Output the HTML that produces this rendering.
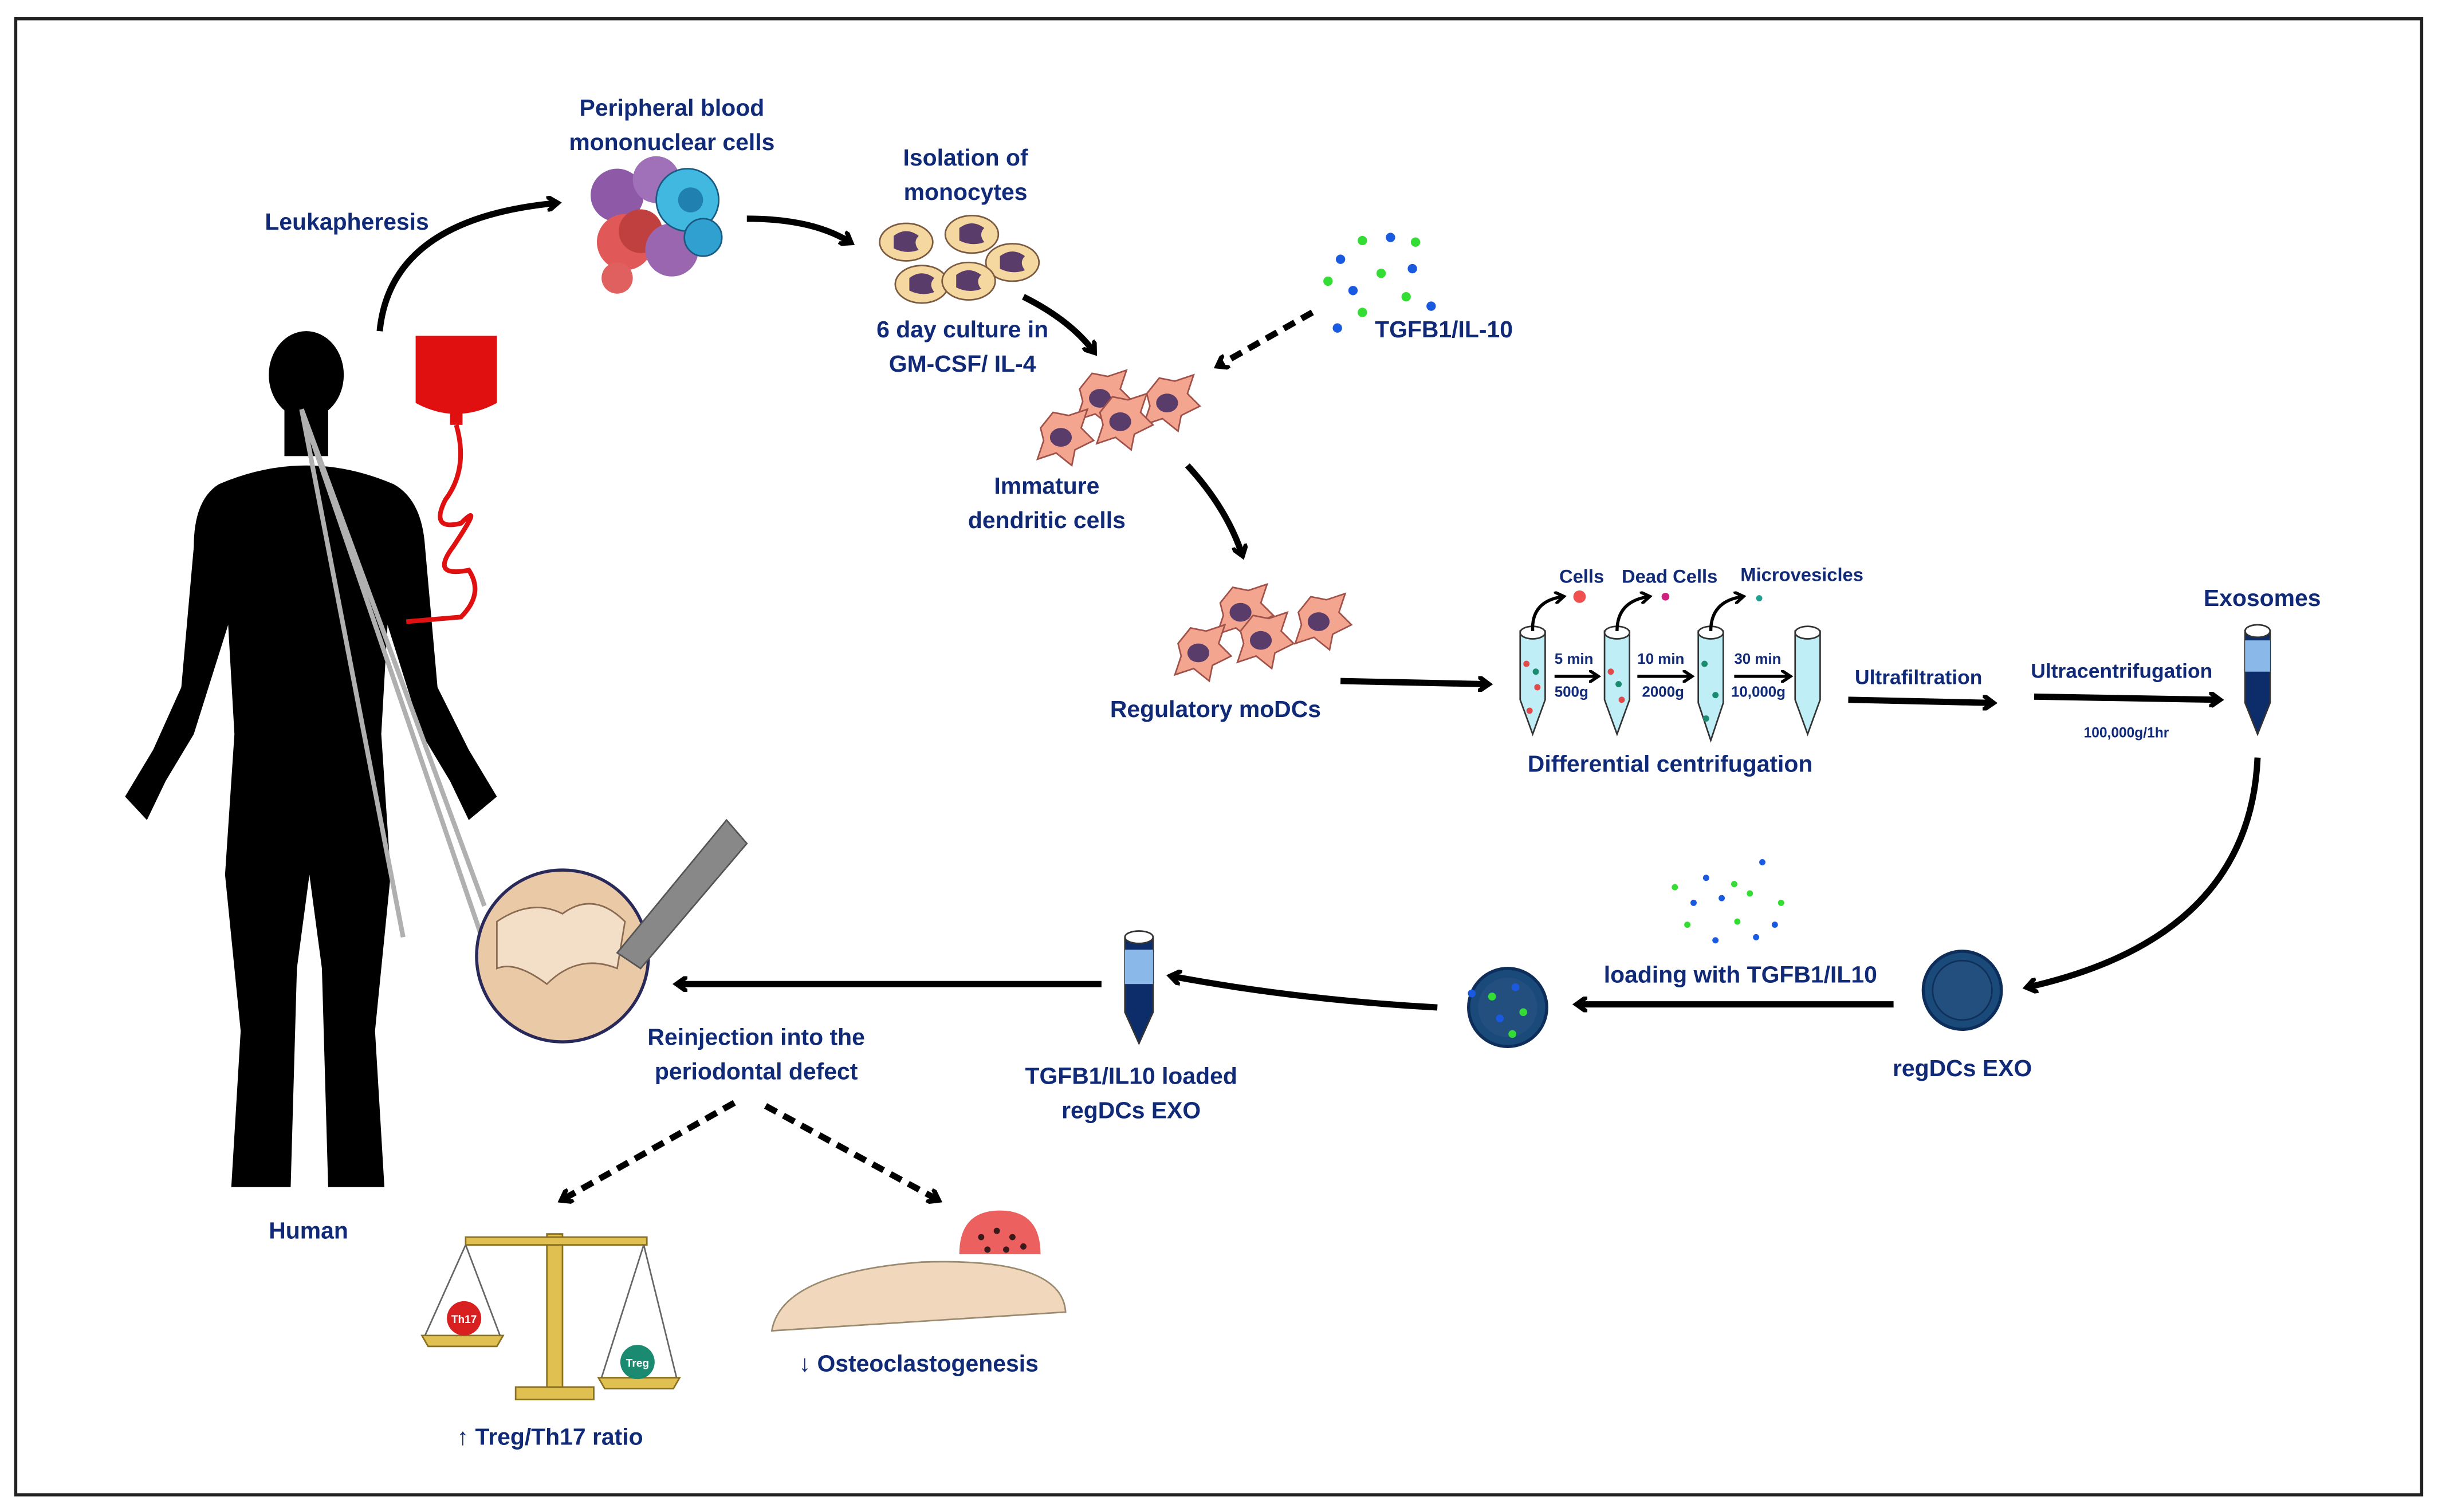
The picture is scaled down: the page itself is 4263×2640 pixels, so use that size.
<!DOCTYPE html>
<html><head><meta charset="utf-8"><style>
html,body{margin:0;padding:0;background:#fff}
svg{display:block}
text{font-family:"Liberation Sans",sans-serif;fill:#102a78;font-weight:bold}
</style></head><body>
<svg width="4263" height="2640" viewBox="0 0 1563 968" xmlns="http://www.w3.org/2000/svg">
<defs>
<marker id="ah" markerWidth="10" markerHeight="10" refX="6" refY="5" orient="auto" markerUnits="userSpaceOnUse"><path d="M0,0 L7,5 L0,10" fill="none" stroke="#000" stroke-width="3"/></marker>
<marker id="ahs" markerWidth="8" markerHeight="8" refX="5" refY="4" orient="auto" markerUnits="userSpaceOnUse"><path d="M0,0 L6,4 L0,8" fill="none" stroke="#000" stroke-width="2"/></marker>
<g id="dc"><path d="M-14,-6 L-6,-16 L4,-14 L16,-18 L12,-6 L20,2 L8,8 L6,18 L-4,10 L-16,14 L-12,2 Z" fill="#f4a58f" stroke="#a0524a" stroke-width="1"/><ellipse cx="-1" cy="0" rx="7" ry="6" fill="#5a3c6a"/></g>
<g id="mono"><ellipse cx="0" cy="0" rx="17" ry="12" fill="#f5d8a0" stroke="#7a5a40" stroke-width="1"/><path d="M-8,-4 Q0,-10 8,-4 Q4,0 8,5 Q0,8 -8,4 Z" fill="#5a3c6a"/></g>
</defs>
<rect x="0" y="0" width="1563" height="968" fill="#fff"/>
<rect x="10" y="12" width="1540" height="945" fill="none" stroke="#222" stroke-width="2"/>

<!-- human -->
<g fill="#000">
<ellipse cx="196" cy="240" rx="24" ry="28"/>
<rect x="182" y="262" width="28" height="30"/>
<path d="M140,310 Q196,286 252,310 Q270,320 272,350 L280,440 L300,480 L318,510 L300,525 L288,500 L270,470 L248,400 L244,470 L250,560 L240,660 L246,760 L210,760 L206,620 L198,560 L190,620 L186,760 L148,760 L154,660 L144,560 L150,470 L146,400 L124,470 L106,500 L94,525 L80,510 L98,480 L116,440 L124,350 Q124,320 140,310 Z"/>
</g>
<path d="M193,262 L310,580 M193,262 L322,640 M193,262 L258,600" stroke="#b0b0b0" stroke-width="3" fill="none"/>
<circle cx="360" cy="612" r="55" fill="#e9c9a6" stroke="#2a2a5a" stroke-width="2"/>
<path d="M318,590 Q340,575 360,585 Q380,570 400,590 L395,620 Q370,610 350,630 Q330,615 318,620 Z" fill="#f3dfc8" stroke="#8a6a50"/>
<path d="M395,610 L465,525 L478,540 L410,620 Z" fill="#888" stroke="#555"/>
<text x="172" y="793" font-size="15">Human</text>

<!-- blood bag -->
<path d="M266,215 L318,215 L318,258 Q292,272 266,258 Z" fill="#e01010"/>
<rect x="288" y="262" width="8" height="10" fill="#e01010"/>
<path d="M292,272 Q300,300 285,320 Q275,340 295,335 Q310,320 290,350 Q275,370 300,365 Q310,380 295,395 L260,398" fill="none" stroke="#e01010" stroke-width="3"/>

<!-- arrows -->
<g fill="none" stroke="#000" stroke-width="4" marker-end="url(#ah)">
<path d="M243,212 Q250,140 356,130"/>
<path d="M478,140 Q520,140 544,155"/>
<path d="M655,190 Q685,205 700,225"/>
<path d="M760,298 Q785,325 795,355"/>
<path d="M858,436 L952,438"/>
<path d="M1183,448 L1275,450"/>
<path d="M1302,446 L1420,448"/>
<path d="M1445,485 Q1440,600 1298,632"/>
<path d="M1212,643 L1010,643"/>
<path d="M920,645 Q830,640 750,625"/>
<path d="M705,630 L434,630"/>
</g>
<g fill="none" stroke="#000" stroke-width="4" stroke-dasharray="8,5" marker-end="url(#ah)">
<path d="M840,200 L780,234"/>
<path d="M470,706 L360,768"/>
<path d="M490,708 L600,768"/>
</g>

<!-- PBMC -->
<g>
<circle cx="395" cy="125" r="17" fill="#8e5aa8"/>
<circle cx="420" cy="115" r="15" fill="#a070b8"/>
<circle cx="400" cy="155" r="18" fill="#e05858"/>
<circle cx="410" cy="148" r="14" fill="#c04040"/>
<circle cx="430" cy="160" r="17" fill="#9a66b0"/>
<circle cx="440" cy="128" r="20" fill="#40b8e0" stroke="#1a5a80"/>
<circle cx="450" cy="152" r="12" fill="#30a0d0" stroke="#1a5a80"/>
<circle cx="442" cy="128" r="8" fill="#2080b0"/>
<circle cx="395" cy="178" r="10" fill="#e06060"/>
</g>
<text x="430" y="74" font-size="15" text-anchor="middle">Peripheral blood</text>
<text x="430" y="96" font-size="15" text-anchor="middle">mononuclear cells</text>
<text x="222" y="147" font-size="15" text-anchor="middle">Leukapheresis</text>

<!-- monocytes -->
<use href="#mono" x="580" y="155"/><use href="#mono" x="622" y="150"/><use href="#mono" x="648" y="168"/>
<use href="#mono" x="590" y="182"/><use href="#mono" x="620" y="180"/>
<text x="618" y="106" font-size="15" text-anchor="middle">Isolation of</text>
<text x="618" y="128" font-size="15" text-anchor="middle">monocytes</text>
<text x="616" y="216" font-size="15" text-anchor="middle">6 day culture in</text>
<text x="616" y="238" font-size="15" text-anchor="middle">GM-CSF/ IL-4</text>

<!-- iDCs -->
<use href="#dc" x="705" y="255"/><use href="#dc" x="748" y="258"/><use href="#dc" x="718" y="270"/><use href="#dc" x="680" y="280"/>
<text x="670" y="316" font-size="15" text-anchor="middle">Immature</text>
<text x="670" y="338" font-size="15" text-anchor="middle">dendritic cells</text>

<!-- TGF dots -->
<g>
<circle cx="858" cy="166" r="3" fill="#1a5ae0"/><circle cx="872" cy="154" r="3" fill="#33dd33"/><circle cx="890" cy="152" r="3" fill="#1a5ae0"/><circle cx="906" cy="155" r="3" fill="#33dd33"/>
<circle cx="850" cy="180" r="3" fill="#33dd33"/><circle cx="866" cy="186" r="3" fill="#1a5ae0"/><circle cx="884" cy="175" r="3" fill="#33dd33"/><circle cx="904" cy="172" r="3" fill="#1a5ae0"/>
<circle cx="872" cy="200" r="3" fill="#33dd33"/><circle cx="900" cy="190" r="3" fill="#33dd33"/><circle cx="916" cy="196" r="3" fill="#1a5ae0"/><circle cx="856" cy="210" r="3" fill="#1a5ae0"/>
</g>
<text x="880" y="216" font-size="15">TGFB1/IL-10</text>

<!-- reg moDCs -->
<use href="#dc" x="795" y="392"/><use href="#dc" x="845" y="398"/><use href="#dc" x="808" y="410"/><use href="#dc" x="768" y="418"/>
<text x="778" y="459" font-size="15" text-anchor="middle">Regulatory moDCs</text>

<!-- tubes -->
<g stroke="#333" stroke-width="1">
<path d="M973,404 L989,404 L989,448 L981,470 L973,448 Z" fill="#bfeef6"/>
<path d="M1027,404 L1043,404 L1043,448 L1035,470 L1027,448 Z" fill="#bfeef6"/>
<path d="M1087,404 L1103,404 L1103,450 L1095,474 L1087,450 Z" fill="#bfeef6"/>
<path d="M1149,404 L1165,404 L1165,448 L1157,470 L1149,448 Z" fill="#bfeef6"/>
<ellipse cx="981" cy="405" rx="8" ry="4" fill="#fff"/><ellipse cx="1035" cy="405" rx="8" ry="4" fill="#fff"/><ellipse cx="1095" cy="405" rx="8" ry="4" fill="#fff"/><ellipse cx="1157" cy="405" rx="8" ry="4" fill="#fff"/>
<path d="M1437,404 L1453,404 L1453,450 L1445,470 L1437,450 Z" fill="#0d2d6a"/>
<path d="M1437,410 L1453,410 L1453,430 L1437,430 Z" fill="#8ab8e8" stroke="none"/>
<ellipse cx="1445" cy="404" rx="8" ry="4" fill="#fff"/>
</g>
<g fill="#e04a4a"><circle cx="977" cy="425" r="2"/><circle cx="984" cy="440" r="2"/><circle cx="979" cy="455" r="2"/><circle cx="1031" cy="430" r="2"/><circle cx="1038" cy="448" r="2"/></g>
<g fill="#1a8a70"><circle cx="983" cy="430" r="2"/><circle cx="1036" cy="438" r="2"/><circle cx="1091" cy="425" r="2"/><circle cx="1098" cy="445" r="2"/><circle cx="1092" cy="460" r="2"/></g>
<g fill="none" stroke="#000" stroke-width="2" marker-end="url(#ahs)">
<path d="M981,404 Q980,385 1000,382"/><path d="M1035,404 Q1035,385 1055,382"/><path d="M1095,404 Q1095,385 1115,382"/>
<path d="M995,433 L1022,433"/><path d="M1048,433 L1082,433"/><path d="M1110,433 L1145,433"/>
</g>
<circle cx="1011" cy="382" r="4" fill="#f05050"/><circle cx="1066" cy="382" r="2.5" fill="#d02080"/><circle cx="1126" cy="383" r="2" fill="#20a090"/>
<text x="998" y="373" font-size="12">Cells</text><text x="1038" y="373" font-size="12">Dead Cells</text><text x="1114" y="372" font-size="12">Microvesicles</text>
<g font-size="9.5"><text x="995" y="425">5 min</text><text x="995" y="446">500g</text><text x="1048" y="425">10 min</text><text x="1051" y="446">2000g</text><text x="1110" y="425">30 min</text><text x="1108" y="446">10,000g</text></g>
<text x="1069" y="494" font-size="15" text-anchor="middle">Differential centrifugation</text>
<text x="1228" y="438" font-size="13" text-anchor="middle">Ultrafiltration</text>
<text x="1358" y="434" font-size="13" text-anchor="middle">Ultracentrifugation</text>
<text x="1361" y="472" font-size="9" text-anchor="middle">100,000g/1hr</text>
<text x="1448" y="388" font-size="15" text-anchor="middle">Exosomes</text>

<!-- regDCs EXO -->
<circle cx="1256" cy="634" r="25" fill="#1a4a7a" stroke="#0d2d5a" stroke-width="2"/>
<circle cx="1256" cy="634" r="19" fill="#234f7e" stroke="#10305a"/>
<text x="1256" y="689" font-size="15" text-anchor="middle">regDCs EXO</text>
<text x="1114" y="629" font-size="15" text-anchor="middle">loading with TGFB1/IL10</text>
<g>
<circle cx="1072" cy="568" r="2" fill="#33dd33"/><circle cx="1092" cy="562" r="2" fill="#1a5ae0"/><circle cx="1110" cy="566" r="2" fill="#33dd33"/><circle cx="1128" cy="552" r="2" fill="#1a5ae0"/>
<circle cx="1084" cy="578" r="2" fill="#1a5ae0"/><circle cx="1102" cy="575" r="2" fill="#1a5ae0"/><circle cx="1120" cy="572" r="2" fill="#33dd33"/><circle cx="1140" cy="578" r="2" fill="#33dd33"/>
<circle cx="1080" cy="592" r="2" fill="#33dd33"/><circle cx="1098" cy="602" r="2" fill="#1a5ae0"/><circle cx="1112" cy="590" r="2" fill="#33dd33"/><circle cx="1136" cy="592" r="2" fill="#1a5ae0"/><circle cx="1124" cy="600" r="2" fill="#1a5ae0"/>
</g>
<circle cx="965" cy="645" r="25" fill="#1a4a7a" stroke="#0d2d5a" stroke-width="2"/>
<circle cx="965" cy="645" r="19" fill="#234f7e"/>
<g><circle cx="955" cy="638" r="2.5" fill="#33dd33"/><circle cx="970" cy="632" r="2.5" fill="#1a5ae0"/><circle cx="960" cy="652" r="2.5" fill="#1a5ae0"/><circle cx="975" cy="648" r="2.5" fill="#33dd33"/><circle cx="942" cy="636" r="2.5" fill="#1a5ae0"/><circle cx="968" cy="662" r="2.5" fill="#33dd33"/></g>

<!-- loaded tube -->
<path d="M720,600 L738,600 L738,648 L729,668 L720,648 Z" fill="#0d2d6a" stroke="#333"/>
<rect x="720" y="608" width="18" height="22" fill="#8ab8e8"/>
<ellipse cx="729" cy="600" rx="9" ry="4" fill="#fff" stroke="#333"/>
<text x="724" y="694" font-size="15" text-anchor="middle">TGFB1/IL10 loaded</text>
<text x="724" y="716" font-size="15" text-anchor="middle">regDCs EXO</text>

<text x="484" y="669" font-size="15" text-anchor="middle">Reinjection into the</text>
<text x="484" y="691" font-size="15" text-anchor="middle">periodontal defect</text>

<!-- balance -->
<g fill="#e0c050" stroke="#8a7020" stroke-width="1">
<rect x="350" y="790" width="10" height="100"/>
<rect x="330" y="888" width="50" height="8"/>
<rect x="298" y="792" width="116" height="5"/>
<path d="M270,855 L322,855 L318,862 L274,862 Z"/>
<path d="M383,882 L435,882 L431,889 L387,889 Z"/>
</g>
<path d="M298,797 L272,855 M298,797 L320,855 M412,797 L385,882 M412,797 L433,882" stroke="#666" fill="none"/>
<circle cx="297" cy="844" r="11" fill="#d82020"/><text x="297" y="847" font-size="7" fill="#fff" style="fill:#fff" text-anchor="middle">Th17</text>
<circle cx="408" cy="872" r="11" fill="#1a8a70"/><text x="408" y="875" font-size="7" style="fill:#fff" text-anchor="middle">Treg</text>
<text x="352" y="925" font-size="15" text-anchor="middle">↑ Treg/Th17 ratio</text>

<!-- bone -->
<path d="M494,852 Q500,815 590,808 Q680,805 682,840 Z" fill="#f1d8bd" stroke="#9a8a70"/>
<path d="M614,803 Q614,775 640,775 Q666,775 666,803 Z" fill="#ec6060"/>
<g fill="#3a1a1a"><circle cx="628" cy="792" r="2"/><circle cx="638" cy="788" r="2"/><circle cx="648" cy="792" r="2"/><circle cx="632" cy="800" r="2"/><circle cx="644" cy="800" r="2"/><circle cx="655" cy="798" r="2"/></g>
<text x="588" y="878" font-size="15" text-anchor="middle">↓ Osteoclastogenesis</text>
</svg>
</body></html>
